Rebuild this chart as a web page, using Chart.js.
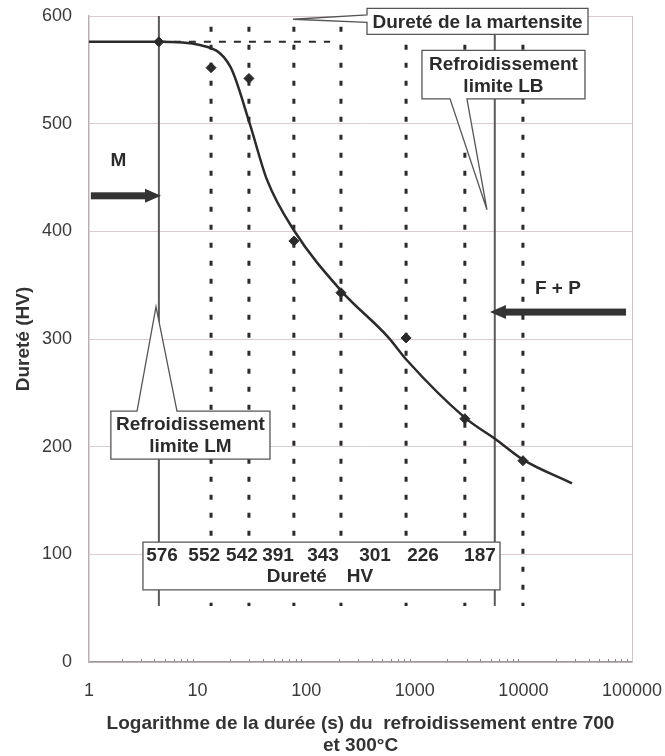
<!DOCTYPE html>
<html>
<head>
<meta charset="utf-8">
<script src="https://cdn.jsdelivr.net/npm/chart.js@4"></script>
<style>
  html, body { margin: 0; padding: 0; background: #fff; }
  #wrap { width: 665px; height: 756px; }
</style>
</head>
<body>
<div id="wrap"><canvas id="chart" width="665" height="756"></canvas></div>
<script>
// measured hardness per cooling duration
const durations = [4.4, 13.3, 29.7, 77, 209, 831, 2890, 9900];
const hardness = [576, 552, 542, 391, 343, 301, 226, 187];

// fitted curve
const curveDurations = [1, 4.4, 10.5, 20, 30, 43.5, 77, 209, 565, 850, 2890, 5700, 9900, 28000];
const curveHardness = [576, 576, 573, 553, 501, 448, 401, 345, 302, 280, 227, 206, 188, 166];

const xTicks = [1, 10, 100, 1000, 10000, 100000];
const yTicks = [0, 100, 200, 300, 400, 500, 600];

const limitLM = 4.4;
const limitLB = 5450;
const martensiteHV = 576;
const martensiteEnd = 166;

const ink = '#2b2b2b';
const boldFont = 'bold 19px "Liberation Sans", Arial, sans-serif';

function vline(x, y0, y1, opts) {
    return Object.assign({
        type: 'line',
        data: [{x: x, y: y0}, {x: x, y: y1}],
        pointRadius: 0,
        borderColor: ink,
        borderWidth: 3,
        order: 5
    }, opts);
}

var datasets = [];
// dotted verticals through each measurement
durations.slice(1).forEach(function (d) {
    datasets.push(vline(d, 590, 52, {borderDash: [5, 13]}));
});
datasets.push(vline(limitLM, 600, 52, {borderColor: '#5a5a5a', borderWidth: 2}));
datasets.push(vline(limitLB, 600, 52, {borderColor: '#5a5a5a', borderWidth: 2}));
datasets.push({
    type: 'line',
    data: [{x: limitLM, y: martensiteHV}, {x: martensiteEnd, y: martensiteHV}],
    pointRadius: 0, borderColor: ink, borderWidth: 2, borderDash: [7, 8], order: 4
});
datasets.push({
    type: 'line',
    data: curveDurations.map(function (d, i) { return {x: d, y: curveHardness[i]}; }),
    pointRadius: 0, borderColor: ink, borderWidth: 2.5,
    cubicInterpolationMode: 'monotone', order: 1
});
datasets.push({
    type: 'scatter',
    data: durations.map(function (d, i) { return {x: d, y: hardness[i]}; }),
    pointStyle: 'rectRot', pointRadius: 5, backgroundColor: ink, borderColor: ink, order: 0
});

const annotations = {
    id: 'annotations',
    afterDatasetsDraw: function (chart) {
        var ctx = chart.ctx, xs = chart.scales.x, ys = chart.scales.y, area = chart.chartArea;
        function P(xv, yv) { return [xs.getPixelForValue(xv), ys.getPixelForValue(yv)]; }
        function X(v) { return xs.getPixelForValue(v); }
        function Y(v) { return ys.getPixelForValue(v); }

        ctx.save();
        // right border of plot
        ctx.strokeStyle = '#c9c2c6';
        ctx.lineWidth = 1;
        ctx.beginPath();
        ctx.moveTo(area.right + 0.5, area.top);
        ctx.lineTo(area.right + 0.5, area.bottom);
        ctx.stroke();

        // minor ticks on x axis
        ctx.strokeStyle = '#888';
        ctx.beginPath();
        for (var dec = 1; dec < 100000; dec *= 10) {
            for (var k = 2; k <= 9; k++) {
                var px = Math.round(X(dec * k)) + 0.5;
                ctx.moveTo(px, area.bottom);
                ctx.lineTo(px, area.bottom - 3);
            }
        }
        ctx.stroke();

        function shape(points) {
            ctx.beginPath();
            points.forEach(function (p, i) {
                if (i === 0) ctx.moveTo(p[0], p[1]); else ctx.lineTo(p[0], p[1]);
            });
            ctx.closePath();
            ctx.fillStyle = '#fff';
            ctx.fill();
            ctx.strokeStyle = '#555';
            ctx.lineWidth = 1.3;
            ctx.stroke();
        }
        function text(lines, cx, cy, lh) {
            ctx.fillStyle = ink;
            ctx.font = boldFont;
            ctx.textAlign = 'center';
            ctx.textBaseline = 'middle';
            lines.forEach(function (t, i) {
                ctx.fillText(t, cx, cy + (i - (lines.length - 1) / 2) * lh);
            });
        }

        // Dureté de la martensite
        var l = X(363), r = X(39350), t = Y(607), b = Y(583);
        shape([[l, t], [r, t], [r, b], [l, b], [l, Y(594)], P(75.5, 597), [l, Y(601)]]);
        text(['Dureté de la martensite'], (l + r) / 2, (t + b) / 2 + 1, 20);

        // Refroidissement limite LB
        l = X(1164); r = X(36900); t = Y(568); b = Y(523);
        shape([[l, t], [r, t], [r, b], [X(3020), b], P(4620, 420), [X(2110), b], [l, b]]);
        text(['Refroidissement', 'limite LB'], (l + r) / 2, (t + b) / 2 + 1, 22);

        // Refroidissement limite LM
        l = X(1.59); r = X(46.4); t = Y(233); b = Y(188.5);
        shape([[l, t], [X(2.77), t], P(4.14, 330), [X(6.46), t], [r, t], [r, b], [l, b]]);
        text(['Refroidissement', 'limite LM'], (l + r) / 2, (t + b) / 2 + 1, 22);

        // hardness table
        l = X(3.14); r = X(6090); t = Y(111.4); b = Y(66.9);
        shape([[l, t], [r, t], [r, b], [l, b]]);
        var labelX = [4.7, 11.5, 25.6, 55, 143, 430, 1190, 3980];
        hardness.forEach(function (h, i) { text([String(h)], X(labelX[i]), Y(99), 20); });
        text(['Dureté'], X(82), Y(79), 20);
        text(['HV'], X(313), Y(79), 20);

        // arrows
        function arrow(x0, x1, yv) {
            var y = Y(yv), a = X(x0), tip = X(x1), dir = tip > a ? 1 : -1;
            ctx.fillStyle = '#333';
            ctx.fillRect(Math.min(a, tip - dir * 14), y - 3.5, Math.abs(tip - dir * 14 - a), 7);
            ctx.beginPath();
            ctx.moveTo(tip, y);
            ctx.lineTo(tip - dir * 16, y - 7);
            ctx.lineTo(tip - dir * 16, y + 7);
            ctx.closePath();
            ctx.fill();
        }
        arrow(1.04, 4.6, 433);
        arrow(88100, 4920, 325);
        text(['M'], X(1.87), Y(466), 20);
        text(['F + P'], X(20800), Y(347), 20);

        ctx.restore();
    }
};

new Chart(document.getElementById('chart'), {
    data: {datasets: datasets},
    options: {
        responsive: false,
        animation: false,
        layout: {padding: {left: 6, right: 33, top: 16, bottom: 0}},
        plugins: {legend: {display: false}, tooltip: {enabled: false}},
        scales: {
            x: {
                type: 'logarithmic',
                min: 1,
                max: 100000,
                afterBuildTicks: function (scale) {
                    scale.ticks = xTicks.map(function (v) { return {value: v}; });
                },
                afterFit: function (scale) {
                    scale.height = 94;
                    scale.paddingLeft = 0;
                    scale.paddingRight = 0;
                },
                ticks: {
                    color: '#3a3a3a',
                    font: {family: '"Liberation Sans", Arial', size: 18},
                    padding: 18,
                    maxRotation: 0,
                    autoSkip: false,
                    callback: function (v) { return String(v); }
                },
                grid: {display: false, drawTicks: false},
                border: {display: true, color: '#9a9a9a', width: 1.5},
                title: {
                    display: true,
                    text: ['Logarithme de la durée (s) du  refroidissement entre 700', 'et 300°C'],
                    color: '#333',
                    font: {family: '"Liberation Sans", Arial', size: 19, weight: 'bold', lineHeight: 1.16},
                    padding: {top: 4, bottom: -1}
                }
            },
            y: {
                min: 0,
                max: 600,
                afterBuildTicks: function (scale) {
                    scale.ticks = yTicks.map(function (v) { return {value: v}; });
                },
                afterFit: function (scale) {
                    scale.width = 83;
                    scale.paddingTop = 0;
                    scale.paddingBottom = 0;
                },
                ticks: {
                    color: '#3a3a3a',
                    font: {family: '"Liberation Sans", Arial', size: 18},
                    padding: 17
                },
                grid: {color: '#dccbd0', drawTicks: false},
                border: {display: true, color: '#b9b0b4', width: 1.5},
                title: {
                    display: true,
                    text: 'Dureté (HV)',
                    color: '#333',
                    font: {family: '"Liberation Sans", Arial', size: 19, weight: 'bold'},
                    padding: {top: 6, bottom: 4}
                }
            }
        }
    },
    plugins: [annotations]
});
</script>
</body>
</html>
